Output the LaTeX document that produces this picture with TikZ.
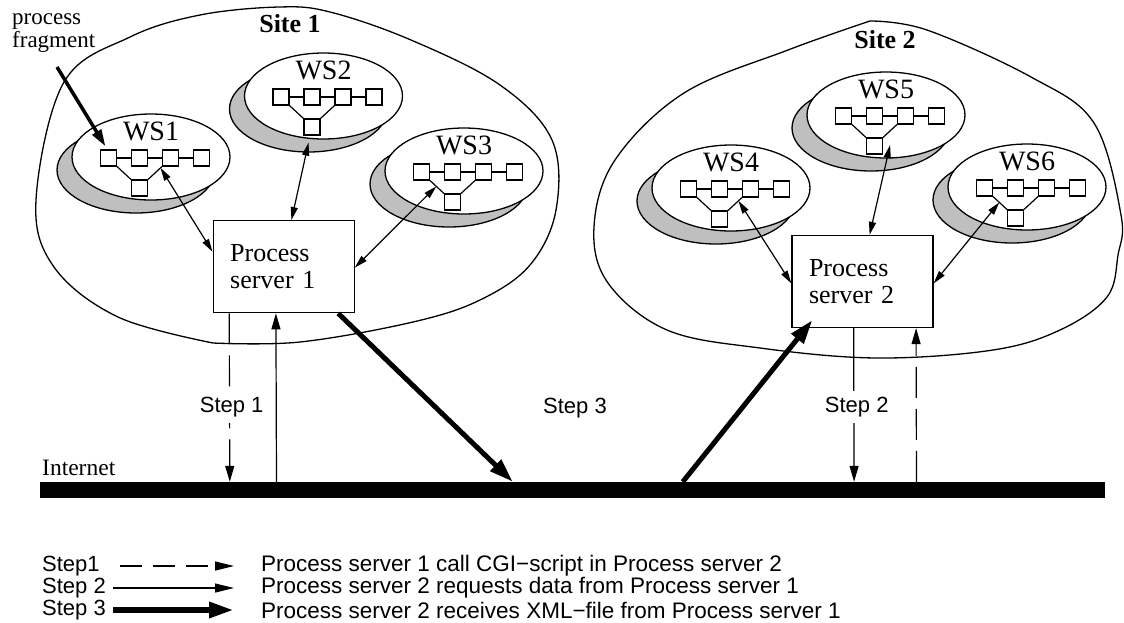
\documentclass[tikz,border=0pt]{standalone}
\usepackage{fontspec}
\setmainfont{Liberation Serif}
\setsansfont{Liberation Sans}
\usetikzlibrary{arrows.meta,calc,shapes.geometric}
\newcommand{\wsgroup}[4]{%
  \draw[wsshadow] ({#2-15},{#3+13}) ellipse [x radius=79, y radius=43];
  \node[wsell] (#1) at (#2,#3) {};
  \foreach \k in {1,...,4} {\node[sq] (#1s\k) at ({#2+4-46.5+31*(\k-1)},{#3+1}) {};}
  \node[sq] (#1b) at ({#2+4-15.5},{#3+31}) {};
  \draw[thinln] (#1s1) -- (#1s2) (#1s2) -- (#1s3) (#1s3) -- (#1s4);
  \draw[thinln] (#1s1.south east) -- (#1b.north west) (#1s3.south west) -- (#1b.north east);
  \node[wslabel] (#1lab) at (#2,{#3-16.5}) {#4};
}
\begin{document}
\begin{tikzpicture}[x=1pt,y=-1pt,
  thinln/.style={line width=1.2pt},
  outline/.style={line width=1.3pt},
  wsshadow/.style={draw, line width=1.3pt, fill=gray!50},
  wsell/.style={draw, line width=1.3pt, fill=white, ellipse, minimum width=158pt, minimum height=86pt, inner sep=0pt},
  sq/.style={draw, line width=1.2pt, fill=white, minimum size=16pt, inner sep=0pt},
  wslabel/.style={font=\fontsize{28}{29}\selectfont, anchor=base, inner sep=0pt},
  psbox/.style={draw, line width=1.3pt, fill=white, font=\fontsize{26}{27}\selectfont, align=left, text width=107pt, inner xsep=17pt, inner ysep=0pt, minimum height=92pt},
  biarrow/.style={line width=1.2pt, {Triangle[length=13pt,width=7pt]}-{Triangle[length=13pt,width=7pt]}},
  steparrow/.style={line width=1.2pt, -{Triangle[length=16pt,width=9pt]}},
  stepdash/.style={steparrow, dash pattern=on 31pt off 11pt},
  thickarrow/.style={line width=5pt, -{Triangle[length=24pt,width=15pt]}},
  steplabel/.style={font=\sffamily\fontsize{22}{24}\selectfont, fill=white, inner xsep=2pt, inner ysep=6pt},
  legstep/.style={font=\sffamily\fontsize{22}{22}\selectfont, anchor=west, inner sep=0pt},
  legtext/.style={font=\sffamily\fontsize{22.5}{22}\selectfont, anchor=west, inner sep=0pt},
  legthin/.style={line width=1.2pt, -{Triangle[length=19pt,width=9pt]}},
]
\useasboundingbox (0,0) rectangle (1124,622);

% sites
\draw[outline] plot[smooth, tension=0.6] coordinates {(213,343) (300,342) (413,322) (480,300) (530,265) (556,210) (552,140) (500,85) (411,40) (330,12) (279,7) (200,15) (130,37) (64,82) (36,200) (54,267) (118,317) (213,343)};
\draw[outline] plot[smooth, tension=0.6] coordinates {(870,21) (927,30) (1031,77) (1094,123) (1121,215) (1118,255) (1107,297) (1060,330) (993,350) (877,358) (760,348) (667,330) (608,283) (594,227) (615,160) (684,93) (788,50) (870,21)};
\node[font=\bfseries\fontsize{26}{27}\selectfont, anchor=base, inner sep=0pt] (site1) at (290,32) {Site 1};
\node[font=\bfseries\fontsize{26}{27}\selectfont, anchor=base, inner sep=0pt] (site2) at (885,48) {Site 2};

% web services
\wsgroup{ws1}{151}{157}{WS1}
\wsgroup{ws2}{323.5}{96}{WS2}
\wsgroup{ws3}{464}{171}{WS3}
\wsgroup{ws4}{731}{188}{WS4}
\wsgroup{ws5}{886}{115}{WS5}
\wsgroup{ws6}{1027}{187}{WS6}

% process servers
\node[psbox] (ps1) at (283.65,266.7) {Process\\server 1};
\node[psbox] (ps2) at (862.5,281.5) {Process\\server 2};

% WS <-> PS
\draw[biarrow] ($(ws1s3.south west)!0.1!(ws1b.north east)$) -- ($(ps1.north west)!0.34!(ps1.south west)$);
\draw[biarrow] ($(ws2.south)+(-15,3)$) -- ($(ps1.north west)!0.555!(ps1.north east)$);
\draw[biarrow] ($(ws3s1.south east)!0.45!(ws3b.north west)$) -- ($(ps1.north east)!0.51!(ps1.south east)$);
\draw[biarrow] ($(ws4s3.south west)!0.25!(ws4b.north east)$) -- ($(ps2.north west)!0.52!(ps2.south west)$);
\draw[biarrow] ($(ws5b.east)+(7,-1)$) -- ($(ps2.north west)!0.55!(ps2.north east)$);
\draw[biarrow] ($(ws6s1.south east)!0.45!(ws6b.north west)$) -- ($(ps2.north east)!0.52!(ps2.south east)$);

% process fragment
\node[font=\fontsize{23}{23}\selectfont, align=left, anchor=north west, inner sep=0pt] (pfrag) at (12,13) {process\\fragment};
\coordinate (pfstart) at (57,67);
\draw[line width=3.5pt, -{Triangle[length=17pt,width=10pt]}] (pfstart) -- ($(ws1s1.north)+(-3,-3)$);

% Internet
\node[fill=black, inner sep=0pt, minimum width=1065pt, minimum height=16pt] (net) at (572.5,490) {};
\node[anchor=base west, font=\fontsize{23.5}{24}\selectfont, inner sep=0pt] (inet) at (42,475) {Internet};

% steps
\draw[stepdash] ($(ps1.south west)+(16.7,0)$) -- ($(net.north west)+(190,0)$);
\draw[steparrow] ($(net.north west)+(236.7,0)$) -- ($(ps1.south west)+(63.4,0)$);
\draw[thickarrow] ($(ps1.south west)+(125.7,0)$) -- ($(net.north west)+(473,0)$);
\draw[thickarrow] ($(net.north west)+(643,0)$) -- ($(ps2.south west)+(21,-8)$);
\draw[steparrow] ($(ps2.south west)+(62.3,0)$) -- ($(net.north west)+(814.3,0)$);
\draw[stepdash] ($(net.north west)+(876.7,0)$) -- ($(ps2.south west)+(124.7,0)$);
\node[steplabel] (st1) at (231.7,406.7) {Step 1};
\node[steplabel] (st2) at (856.7,406.7) {Step 2};
\node[steplabel, fill=none] (st3) at (575,408) {Step 3};

% legend
\node[legstep] (l1) at (42,566) {Step1};
\node[legstep] (l2) at (42,588) {Step 2};
\node[legstep] (l3) at (42,610) {Step 3};
\node[legtext] (d1) at (261,566) {Process server 1 call CGI−script in Process server 2};
\node[legtext] (d2) at (261,588) {Process server 2 requests data from Process server 1};
\node[legtext] (d3) at (261,610) {Process server 2 receives XML−file from Process server 1};
\draw[legthin, dash pattern=on 22pt off 11pt] (l1.east -| 120,0) -- ($(d1.west)+(-27,0)$);
\draw[legthin] (l2.east -| 113,0) -- ($(d2.west)+(-27,0)$);
\draw[line width=6pt, -{Triangle[length=25pt,width=15pt]}] (l3.east -| 113,0) -- ($(d3.west)+(-27,0)$);
\end{tikzpicture}
\end{document}
